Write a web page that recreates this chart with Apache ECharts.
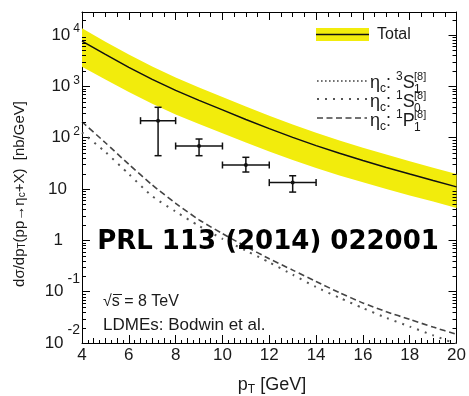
<!DOCTYPE html>
<html>
<head>
<meta charset="utf-8">
<script src="https://cdn.jsdelivr.net/npm/echarts@6/dist/echarts.min.js"></script>
<style>
  html, body { margin: 0; padding: 0; background: #ffffff; }
  #chart { width: 469px; height: 396px; }
</style>
</head>
<body>
<div id="chart"></div>
<script>
// pT grid (GeV) on which the NRQCD predictions are tabulated
const ptGrid = [4, 5, 6, 7, 8, 9, 10, 11, 12, 13, 14, 15, 16, 17, 18, 19, 20];

// Total prediction: central value and uncertainty band [nb/GeV]
const totalCentral = [7586, 4169, 2344, 1365, 832, 531, 347, 226, 150, 101, 70, 49.5, 35.9, 26.3, 19.5, 14.6, 11.0];
const totalUpper   = [13490, 7413, 4169, 2427, 1479, 944, 617, 403, 266, 180, 124, 88.1, 63.8, 46.8, 34.7, 26.0, 19.5];
const totalLower   = [2399, 1349, 776, 457, 282, 184, 122, 80.4, 53.7, 36.7, 25.7, 18.4, 13.5, 10.0, 7.5, 5.69, 4.27];

// Individual colour-octet channels [nb/GeV]
const eta1S0 = [126, 52.5, 19.5, 7.24, 3.63, 1.91, 1.07, 0.631, 0.372, 0.214, 0.123, 0.0759, 0.0479, 0.0309, 0.0209, 0.0141, 0.00955];
const eta1P1 = [204, 79.4, 30.2, 12.0, 5.25, 2.51, 1.35, 0.759, 0.437, 0.263, 0.158, 0.0955, 0.0603, 0.0407, 0.0288, 0.0204, 0.0148];

// LHCb measurement: bin centres, bin edges, cross section and its error range
const dataPt      = [7.25, 9, 11, 13];
const dataPtLow   = [6.5, 8, 10, 12];
const dataPtHigh  = [8, 10, 12, 14];
const dataXsec    = [214, 68.7, 29.3, 13.3];
const dataXsecLow = [44.5, 44.5, 21.4, 8.7];
const dataXsecHigh= [390, 94, 41.4, 18.1];

// Axis ranges and labelled decades
const xRange = [4, 20];
const yRange = [0.01, 28000];
const yDecades = [-2, -1, 0, 1, 2, 3, 4];

const FONT = '"Liberation Sans", Arial, Helvetica, sans-serif';
const BAND = '#f2ec0c';
const INK = '#1a1a1a';

// minor log ticks (2..9 x 10^n) inside the y range
const minorY = [];
for (let n = -2; n <= 4; n++) {
  for (let k = 2; k <= 9; k++) {
    const v = k * Math.pow(10, n);
    if (v > yRange[0] && v < yRange[1]) minorY.push([xRange[0], v]);
  }
}

const chart = echarts.init(document.getElementById('chart'), null, { renderer: 'canvas' });

function yLabel(v) {
  const e = Math.log10(v);
  const n = Math.round(e);
  if (Math.abs(e - n) > 1e-6 || yDecades.indexOf(n) < 0) return '';
  if (n === 0) return '{b|1}{sp1| }';
  if (n === 1) return '{b|10}{sp10| }';
  if (n < 0) return '{b|10}{supn|' + n + '}';
  return '{b|10}{sup|' + n + '}';
}

const hiddenLabel = { show: false };
const noSplit = { show: false };
const axisLine = { show: true, onZero: false, lineStyle: { color: '#000', width: 1 } };

const option = {
  backgroundColor: '#ffffff',
  animation: false,
  grid: { left: 82, right: 7, top: 12, bottom: 53, containLabel: false },
  xAxis: [
    {
      type: 'value', min: xRange[0], max: xRange[1], interval: 2, position: 'bottom',
      axisLine: axisLine,
      axisTick: { show: true, inside: true, length: 8, lineStyle: { color: '#000' } },
      minorTick: { show: true, splitNumber: 4, length: 5, lineStyle: { color: '#000' } },
      axisLabel: { show: true, margin: 4, fontFamily: FONT, fontSize: 17, color: INK },
      splitLine: noSplit, minorSplitLine: noSplit
    },
    {
      type: 'value', min: xRange[0], max: xRange[1], interval: 2, position: 'top',
      axisLine: axisLine,
      axisTick: { show: true, inside: true, length: 8, lineStyle: { color: '#000' } },
      minorTick: { show: true, splitNumber: 4, length: 5, lineStyle: { color: '#000' } },
      axisLabel: hiddenLabel, splitLine: noSplit, minorSplitLine: noSplit
    },
    {
      type: 'value', min: xRange[0], max: xRange[1], interval: 0.25, position: 'bottom',
      axisLine: { show: false },
      axisTick: { show: true, inside: true, length: 3, lineStyle: { color: '#000' } },
      axisLabel: hiddenLabel, splitLine: noSplit
    }
  ],
  yAxis: [
    {
      type: 'log', logBase: 10, min: yRange[0], max: yRange[1], position: 'left',
      axisLine: axisLine,
      axisTick: { show: true, inside: true, length: 8, lineStyle: { color: '#000' } },
      axisLabel: {
        show: true, margin: 2, fontFamily: FONT, fontSize: 17, color: INK,
        formatter: yLabel,
        rich: {
          b: { fontFamily: FONT, fontSize: 17, color: INK, lineHeight: 20 },
          sup: { fontFamily: FONT, fontSize: 12, color: INK, lineHeight: 14, padding: [0, 0, 12, 3] },
          supn: { fontFamily: FONT, fontSize: 14, color: INK, lineHeight: 16, padding: [0, 0, 26, 4] },
          sp10: { width: 13 },
          sp1: { width: 17 }
        }
      },
      splitLine: noSplit
    },
    {
      type: 'log', logBase: 10, min: yRange[0], max: yRange[1], position: 'right',
      axisLine: axisLine,
      axisTick: { show: true, inside: true, length: 8, lineStyle: { color: '#000' } },
      axisLabel: hiddenLabel, splitLine: noSplit
    }
  ],
  series: [
    {
      // uncertainty band of the total prediction
      type: 'custom', name: 'Total band', silent: true, z: 1,
      xAxisIndex: 0, yAxisIndex: 0,
      data: ptGrid.map((x, i) => [x, totalLower[i], totalUpper[i]]),
      encode: { x: 0, y: [1, 2] },
      renderItem: function (params, api) {
        if (params.dataIndex !== 0) return;
        const pts = [];
        for (let i = 0; i < ptGrid.length; i++) pts.push(api.coord([ptGrid[i], totalUpper[i]]));
        for (let i = ptGrid.length - 1; i >= 0; i--) pts.push(api.coord([ptGrid[i], totalLower[i]]));
        return { type: 'polygon', shape: { points: pts }, style: { fill: BAND, stroke: null } };
      }
    },
    {
      type: 'line', name: 'Total', z: 2, silent: true,
      data: ptGrid.map((x, i) => [x, totalCentral[i]]),
      showSymbol: false, symbol: 'none',
      lineStyle: { color: '#111', width: 1.5 }
    },
    {
      type: 'line', name: '1P1', z: 2, silent: true,
      data: ptGrid.map((x, i) => [x, eta1P1[i]]),
      showSymbol: false, symbol: 'none', smooth: 0.2,
      lineStyle: { color: '#444', width: 1.6, type: [6, 3.5] }
    },
    {
      type: 'line', name: '1S0', z: 2, silent: true,
      data: ptGrid.map((x, i) => [x, eta1S0[i]]),
      showSymbol: false, symbol: 'none', smooth: 0.2,
      lineStyle: { color: '#555', width: 2, type: [2, 6] }
    },
    {
      // measured points with horizontal bin width and vertical error bars
      type: 'custom', name: 'LHCb', z: 5, silent: true,
      data: dataPt.map((x, i) => [x, dataXsec[i], dataPtLow[i], dataPtHigh[i], dataXsecLow[i], dataXsecHigh[i]]),
      encode: { x: 0, y: 1 },
      renderItem: function (params, api) {
        const x = api.value(0), y = api.value(1);
        const c = api.coord([x, y]);
        const l = api.coord([api.value(2), y]);
        const r = api.coord([api.value(3), y]);
        const t = api.coord([x, api.value(5)]);
        const b = api.coord([x, api.value(4)]);
        const cap = 3.5;
        const st = { stroke: '#111', lineWidth: 1.5 };
        const seg = (x1, y1, x2, y2) => ({ type: 'line', shape: { x1: x1, y1: y1, x2: x2, y2: y2 }, style: st });
        return {
          type: 'group',
          children: [
            seg(l[0], l[1], r[0], r[1]),
            seg(t[0], t[1], b[0], b[1]),
            seg(l[0], l[1] - cap, l[0], l[1] + cap),
            seg(r[0], r[1] - cap, r[0], r[1] + cap),
            seg(t[0] - cap, t[1], t[0] + cap, t[1]),
            seg(b[0] - cap, b[1], b[0] + cap, b[1]),
            { type: 'circle', shape: { cx: c[0], cy: c[1], r: 2 }, style: { fill: '#111' } }
          ]
        };
      }
    },
    {
      // minor logarithmic ticks on the left and right frame edges
      type: 'custom', name: 'minor ticks', z: 6, silent: true,
      data: minorY,
      encode: { x: 0, y: 1 },
      renderItem: function (params, api) {
        const v = api.value(1);
        const lp = api.coord([xRange[0], v]);
        const rp = api.coord([xRange[1], v]);
        const st = { stroke: '#000', lineWidth: 1 };
        const yy = Math.round(lp[1]) + 0.5;
        return {
          type: 'group',
          children: [
            { type: 'line', shape: { x1: lp[0], y1: yy, x2: lp[0] + 4, y2: yy }, style: st },
            { type: 'line', shape: { x1: rp[0], y1: yy, x2: rp[0] - 4, y2: yy }, style: st }
          ]
        };
      }
    }
  ],
  graphic: [
    // axis titles
    {
      type: 'text', x: 20, y: 194, rotation: Math.PI / 2, z: 10,
      style: {
        text: 'dσ/dp{s|T}(pp→η{s|c}+X)  [nb/GeV]', align: 'center', verticalAlign: 'middle',
        font: '15px ' + FONT, fill: INK,
        rich: { s: { fontSize: 10, fontFamily: FONT, fill: INK, verticalAlign: 'bottom', lineHeight: 10 } }
      }
    },
    {
      type: 'text', x: 272, y: 385, z: 10,
      style: {
        text: 'p{s|T} [GeV]', align: 'center', verticalAlign: 'middle',
        font: '18px ' + FONT, fill: INK, lineHeight: 22,
        rich: { s: { fontSize: 12, fontFamily: FONT, fill: INK, verticalAlign: 'bottom', lineHeight: 10 } }
      }
    },
    // legend
    { type: 'rect', shape: { x: 316, y: 28, width: 53, height: 13 }, style: { fill: BAND }, z: 10 },
    { type: 'line', shape: { x1: 316, y1: 34.5, x2: 369, y2: 34.5 }, style: { stroke: '#111', lineWidth: 1.5 }, z: 11 },
    { type: 'text', x: 377, y: 35, z: 10, style: { text: 'Total', font: '16px ' + FONT, fill: INK, verticalAlign: 'middle' } },

    { type: 'line', shape: { x1: 317, y1: 81, x2: 367, y2: 81 }, style: { stroke: '#444', lineWidth: 1.6, lineDash: [1.6, 2.4] }, z: 10 },
    { type: 'line', shape: { x1: 317, y1: 99, x2: 367, y2: 99 }, style: { stroke: '#555', lineWidth: 2, lineDash: [2, 6] }, z: 10 },
    { type: 'line', shape: { x1: 317, y1: 118, x2: 367, y2: 118 }, style: { stroke: '#444', lineWidth: 1.6, lineDash: [6, 3.5] }, z: 10 },

    { type: 'text', x: 370, y: 83, z: 10, style: { text: 'η{c|c}: {p|3}S', font: '18px ' + FONT, fill: INK, verticalAlign: 'middle', lineHeight: 24,
      rich: { c: { fontSize: 12, fontFamily: FONT, fill: INK, verticalAlign: 'bottom', lineHeight: 10 }, p: { fontSize: 12, fontFamily: FONT, fill: INK, verticalAlign: 'top', lineHeight: 12 } } } },
    { type: 'text', x: 414, y: 77, z: 10, style: { text: '[8]', font: '11px ' + FONT, fill: INK, verticalAlign: 'middle' } },
    { type: 'text', x: 414, y: 90, z: 10, style: { text: '1', font: '12px ' + FONT, fill: INK, verticalAlign: 'middle' } },

    { type: 'text', x: 370, y: 102, z: 10, style: { text: 'η{c|c}: {p|1}S', font: '18px ' + FONT, fill: INK, verticalAlign: 'middle', lineHeight: 24,
      rich: { c: { fontSize: 12, fontFamily: FONT, fill: INK, verticalAlign: 'bottom', lineHeight: 10 }, p: { fontSize: 12, fontFamily: FONT, fill: INK, verticalAlign: 'top', lineHeight: 12 } } } },
    { type: 'text', x: 414, y: 96, z: 10, style: { text: '[8]', font: '11px ' + FONT, fill: INK, verticalAlign: 'middle' } },
    { type: 'text', x: 414, y: 109, z: 10, style: { text: '0', font: '12px ' + FONT, fill: INK, verticalAlign: 'middle' } },

    { type: 'text', x: 370, y: 121, z: 10, style: { text: 'η{c|c}: {p|1}P', font: '18px ' + FONT, fill: INK, verticalAlign: 'middle', lineHeight: 24,
      rich: { c: { fontSize: 12, fontFamily: FONT, fill: INK, verticalAlign: 'bottom', lineHeight: 10 }, p: { fontSize: 12, fontFamily: FONT, fill: INK, verticalAlign: 'top', lineHeight: 12 } } } },
    { type: 'text', x: 414, y: 115, z: 10, style: { text: '[8]', font: '11px ' + FONT, fill: INK, verticalAlign: 'middle' } },
    { type: 'text', x: 414, y: 128, z: 10, style: { text: '1', font: '12px ' + FONT, fill: INK, verticalAlign: 'middle' } },

    // annotations
    { type: 'text', x: 268, y: 242, z: 12, style: { text: 'PRL 113 (2014) 022001', align: 'center', verticalAlign: 'middle', font: 'bold 26px "DejaVu Sans", sans-serif', fill: '#000' } },
    { type: 'text', x: 103, y: 302, z: 10, style: { text: '√s = 8 TeV', verticalAlign: 'middle', font: '16px ' + FONT, fill: INK } },
    { type: 'line', shape: { x1: 113, y1: 294.5, x2: 122, y2: 294.5 }, style: { stroke: INK, lineWidth: 1 }, z: 10 },
    { type: 'text', x: 103, y: 325, z: 10, style: { text: 'LDMEs: Bodwin et al.', verticalAlign: 'middle', font: '17px ' + FONT, fill: INK } }
  ]
};

chart.setOption(option);
</script>
</body>
</html>
